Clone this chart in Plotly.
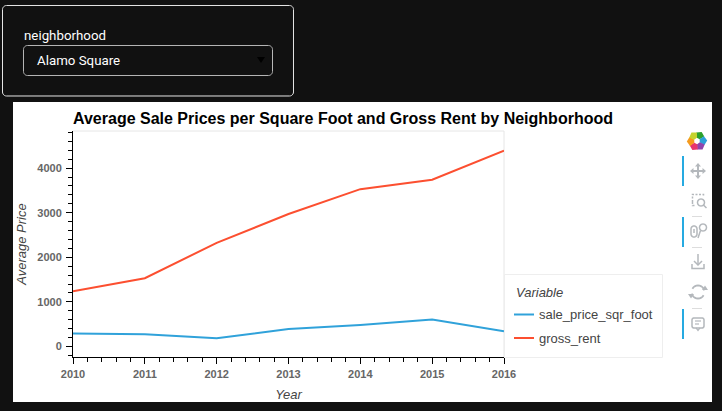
import math
import plotly.graph_objects as go

years = [2010, 2011, 2012, 2013, 2014, 2015, 2016]
sale_price_sqr_foot = [291, 272, 184, 390, 484, 603, 340]
gross_rent = [1239, 1530, 2324, 2971, 3528, 3739, 4390]
y_ticks = [0, 1000, 2000, 3000, 4000]
series_names = ["sale_price_sqr_foot", "gross_rent"]
series_colors = ["#30a2da", "#fc4f30"]
title_text = "Average Sale Prices per Square Foot and Gross Rent by Neighborhood"

W, H = 722, 411
PL, PR, PT, PB = 73, 504, 131, 357
Y_PER_PX = 1000 / 44.6
y0_px = 346.5


def X(v):
    return (v - PL) / (PR - PL)


def Y(v):
    return (PB - v) / (PB - PT)


def path(points, close=False):
    s = "M " + " L ".join(f"{X(a):.5f},{Y(b):.5f}" for a, b in points)
    return s + (" Z" if close else "")


def rounded(x0, y0, x1, y1, r):
    pts = []
    for cx, cy, a0 in [(x1 - r, y0 + r, -90), (x1 - r, y1 - r, 0), (x0 + r, y1 - r, 90), (x0 + r, y0 + r, 180)]:
        for k in range(7):
            a = math.radians(a0 + k * 15)
            pts.append((cx + r * math.cos(a), cy + r * math.sin(a)))
    return path(pts, True)


shapes = []


def add_path(d, line=None, fill=None, width=1, layer="below"):
    shapes.append(dict(type="path", xref="paper", yref="paper", path=d, layer=layer,
                       line=dict(color=line or "rgba(0,0,0,0)", width=width if line else 0),
                       fillcolor=fill or "rgba(0,0,0,0)"))


def circle(cx, cy, r, n=24):
    return [(cx + r * math.cos(2 * math.pi * i / n), cy + r * math.sin(2 * math.pi * i / n)) for i in range(n)]


# page panels
add_path(rounded(2.5, 5.5, 293.5, 96, 4), line="#e6e6e6")
add_path(rounded(23.5, 45.5, 272.5, 75.5, 4), line="#b8b8b8")
add_path(path([(257, 57), (265, 57), (261, 63)], True), fill="#000000")
add_path(path([(13, 102), (712, 102), (712, 402), (13, 402)], True), fill="#ffffff")

# frame of the plot
add_path(path([(PL, PT), (PR, PT), (PR, PB)]), line="#e6e6e6")
# legend box
add_path(path([(504.5, 274.5), (662.5, 274.5), (662.5, 357.5), (504.5, 357.5)], True), line="#eeeeee")

# toolbar
for y0_, y1_ in [(156, 186), (217, 247), (309, 339)]:
    add_path(path([(682, y0_), (684, y0_), (684, y1_), (682, y1_)], True), fill="#26aae1")
for sy in [216.5, 247.5, 308.5]:
    add_path(path([(692, sy), (702, sy)]), line="#dddddd")
G = "#b4b8bc"
# logo
logo = ["#2ca02c", "#2b9fd9", "#8e44ad", "#e8356d", "#f59b1e", "#c5d32c"]
cx, cy = 697, 141
for i, c in enumerate(logo):
    a = math.radians(-95 + i * 60)
    b = a + math.radians(64)
    m = (a + b) / 2
    add_path(path([(cx + 3.2 * math.cos(a), cy + 3.2 * math.sin(a)),
                   (cx + 8.5 * math.cos(a), cy + 8.5 * math.sin(a)),
                   (cx + 10.2 * math.cos(m), cy + 10.2 * math.sin(m)),
                   (cx + 8.5 * math.cos(b), cy + 8.5 * math.sin(b)),
                   (cx + 3.2 * math.cos(b), cy + 3.2 * math.sin(b))], True), fill=c)
# pan
c0 = (698, 171)
add_path(path([(c0[0] - 6, c0[1]), (c0[0] + 6, c0[1])]), line=G, width=2)
add_path(path([(c0[0], c0[1] - 6), (c0[0], c0[1] + 6)]), line=G, width=2)
for dx, dy in [(1, 0), (-1, 0), (0, 1), (0, -1)]:
    tip = (c0[0] + dx * 8, c0[1] + dy * 8)
    add_path(path([tip, (tip[0] - dx * 3.5 + dy * 3, tip[1] - dy * 3.5 + dx * 3),
                   (tip[0] - dx * 3.5 - dy * 3, tip[1] - dy * 3.5 - dx * 3)], True), fill=G)
# box zoom
shapes.append(dict(type="path", xref="paper", yref="paper", layer="below",
                   path=path([(692.5, 202), (692.5, 194.5), (703.5, 194.5), (703.5, 197)]),
                   line=dict(color=G, width=1.5, dash="2px,1.5px")))
shapes.append(dict(type="path", xref="paper", yref="paper", layer="below",
                   path=path([(692.5, 202), (692.5, 205.5), (696, 205.5)]),
                   line=dict(color=G, width=1.5, dash="2px,1.5px")))
add_path(path(circle(701, 202.5, 3.5), True), line=G, width=1.5)
add_path(path([(703.5, 205), (706.5, 208)]), line=G, width=1.5)
# wheel zoom
add_path(rounded(691, 226, 697, 237, 3), line=G, width=1.5)
add_path(path([(694, 229), (694, 233)]), line=G, width=1.5)
add_path(path(circle(703, 227.5, 3.5), True), line=G, width=1.5)
add_path(path([(700.5, 230.5), (698, 238)]), line=G, width=1.5)
# save
add_path(path([(692, 264), (692, 268.5), (704, 268.5), (704, 264)]), line=G, width=1.5)
add_path(path([(698, 254), (698, 265)]), line=G, width=1.5)
add_path(path([(694, 261), (698, 265), (702, 261)]), line=G, width=1.5)
# reset
arc1 = [(698 + 6.5 * math.cos(math.radians(a)), 292 + 6.5 * math.sin(math.radians(a))) for a in range(-150, -10, 15)]
arc2 = [(698 + 6.5 * math.cos(math.radians(a)), 292 + 6.5 * math.sin(math.radians(a))) for a in range(30, 170, 15)]
add_path(path(arc1), line=G, width=1.8)
add_path(path(arc2), line=G, width=1.8)
add_path(path([(702, 290), (708, 290), (705, 285.5)], True), fill=G)
add_path(path([(688, 294), (694, 294), (691, 298.5)], True), fill=G)
# comment
add_path(rounded(692, 318, 704, 328, 2), line=G, width=1.5)
add_path(path([(695, 321), (701, 321)]), line=G, width=1.2)
add_path(path([(695, 324), (699, 324)]), line=G, width=1.2)
add_path(path([(696, 328), (698, 330.5), (700, 328)]), line=G, width=1.2)

# legend samples
for name, color, ly in zip(series_names, series_colors, [314.5, 338]):
    add_path(path([(514, ly), (534, ly)]), line=color, width=2)

SANS = "Liberation Sans, Arial, sans-serif"
UI = "Roboto, Noto Sans, sans-serif"


def note(text, x, y, size=12, color="#444444", font=SANS, anchor="left", angle=0):
    return dict(text=text, xref="paper", yref="paper", x=X(x), y=Y(y), xanchor=anchor, yanchor="middle",
                showarrow=False, textangle=angle, xshift=-1, font=dict(size=size, color=color, family=font))


annotations = [
    note("neighborhood", 22.5, 35, 13.3, "#ffffff", UI),
    note("Alamo Square", 35.5, 61, 13.3, "#ffffff", UI),
    note("<i>Variable</i>", 514.5, 292.5, 13, "#444444"),
]
for name, ly in zip(series_names, [314.5, 338]):
    annotations.append(note(name, 538, ly, 13, "#444444"))

fig = go.Figure()
fig.add_trace(go.Scatter(x=years, y=sale_price_sqr_foot, mode="lines", name=series_names[0],
                         line=dict(color=series_colors[0], width=2)))
fig.add_trace(go.Scatter(x=years, y=gross_rent, mode="lines", name=series_names[1],
                         line=dict(color=series_colors[1], width=2)))

fig.update_layout(
    width=W, height=H, autosize=False, showlegend=False,
    paper_bgcolor="#111111", plot_bgcolor="rgba(0,0,0,0)",
    margin=dict(l=PL, r=W - PR, t=PT, b=H - PB, pad=0),
    title=dict(text=f"<b>{title_text}</b>", x=73 / W, y=1 - 118 / H, xref="container", yref="container",
               xanchor="left", yanchor="middle", font=dict(family=SANS, size=16, color="#000000")),
    shapes=shapes, annotations=annotations,
    font=dict(family=SANS),
)
fig.update_xaxes(
    range=[2010, 2016], tickmode="linear", tick0=2010, dtick=1, showgrid=False, zeroline=False,
    showline=True, linecolor="#000000", linewidth=1, ticks="outside", ticklen=6, tickcolor="#000000",
    tickfont=dict(size=11, color="#666666", family=SANS, weight="bold"),
    ticklabelstandoff=1,
    title=dict(text="<i>Year</i>", font=dict(size=13, color="#444444", family=SANS), standoff=10),
    minor=dict(ticks="outside", ticklen=4, dtick=0.2, tick0=2010, tickcolor="#000000", showgrid=False),
)
fig.update_yaxes(
    range=[(y0_px - PB) * Y_PER_PX, (y0_px - PT) * Y_PER_PX], tickmode="array", tickvals=y_ticks,
    showgrid=False, zeroline=False, showline=True, linecolor="#000000", linewidth=1,
    ticks="outside", ticklen=6, tickcolor="#000000",
    tickfont=dict(size=11, color="#666666", family=SANS, weight="bold"),
    ticklabelstandoff=2,
    title=dict(text="<i>Average Price</i>", font=dict(size=13, color="#444444", family=SANS), standoff=7),
    minor=dict(ticks="outside", ticklen=4, dtick=200, tick0=0, tickcolor="#000000", showgrid=False),
)

fig.write_html(
    "out.html",
    config=dict(displayModeBar=False),
    post_script="document.body.style.margin='0';document.body.style.background='#111111';document.body.style.overflow='hidden';",
)
